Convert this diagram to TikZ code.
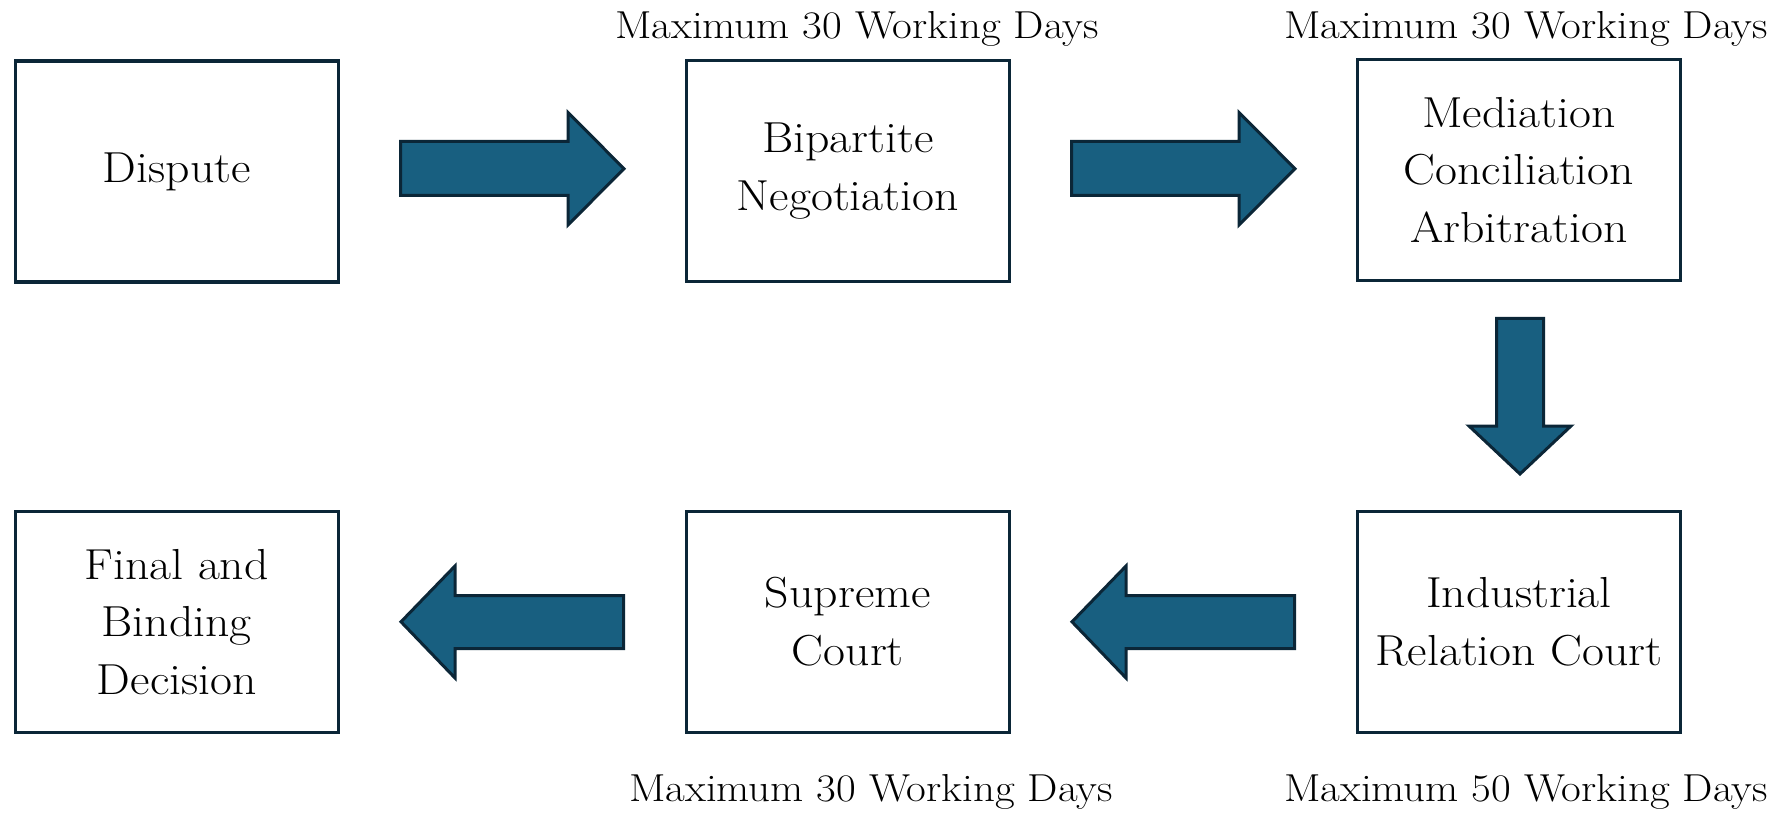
\documentclass[tikz,border=0pt]{standalone}
\usepackage{fontspec}
\setmainfont{Latin Modern Roman}[FakeStretch=1.1]
\definecolor{edgec}{HTML}{0B2637}
\definecolor{arrowc}{HTML}{185F80}
\begin{document}
\begin{tikzpicture}[x=0.5pt,y=-0.5pt,
  box/.style={draw=edgec,line width=1.7pt,fill=white,minimum width=161.5pt,minimum height=110.5pt,inner sep=0pt,align=center,font=\fontsize{21.7}{28.7}\selectfont},
  lbl/.style={anchor=base,inner sep=0pt,font=\fontsize{19.5}{23}\selectfont},
  blockarrow/.style={draw=edgec,line width=1.5pt,fill=arrowc,line join=miter}]
\useasboundingbox (0,0) rectangle (1785,813);
% boxes
\node[box] (dispute) at (176.8,171.5) {Dispute};
\node[box] (bipartite) at (847.8,171) {Bipartite\\Negotiation};
\node[box] (mediation) at (1519,170) {Mediation\\Conciliation\\Arbitration};
\node[box] (industrial) at (1519,621.8) {Industrial\\Relation Court};
\node[box] (supreme) at (847.8,621.8) {Supreme\\Court};
\node[box] (final) at (176.8,621.8) {Final and\\Binding\\Decision};
% labels
\node[lbl] (l1) at (857,38.3) {Maximum 30 Working Days};
\node[lbl] (l2) at (1526,39) {Maximum 30 Working Days};
\node[lbl] (l3) at (871,801.5) {Maximum 30 Working Days};
\node[lbl] (l4) at (1526,801.5) {Maximum 50 Working Days};
% block arrows
\draw[blockarrow] (400.5,141.5) -- (568,141.5) -- (568,112.5) -- (624,168.7) -- (568,225) -- (568,195.5) -- (400.5,195.5) -- cycle;
\draw[blockarrow] (1071.5,141.5) -- (1239,141.5) -- (1239,112.5) -- (1295,168.7) -- (1239,225) -- (1239,195.5) -- (1071.5,195.5) -- cycle;
\draw[blockarrow] (1496.5,318.3) -- (1543.5,318.3) -- (1543.5,426) -- (1571,426) -- (1520,474) -- (1469,426) -- (1496.5,426) -- cycle;
\draw[blockarrow] (623.5,595.5) -- (455,595.5) -- (455,566) -- (401,621.8) -- (455,678) -- (455,648.5) -- (623.5,648.5) -- cycle;
\draw[blockarrow] (1294.5,595.5) -- (1126,595.5) -- (1126,566) -- (1072,621.8) -- (1126,678) -- (1126,648.5) -- (1294.5,648.5) -- cycle;
\end{tikzpicture}
\end{document}
